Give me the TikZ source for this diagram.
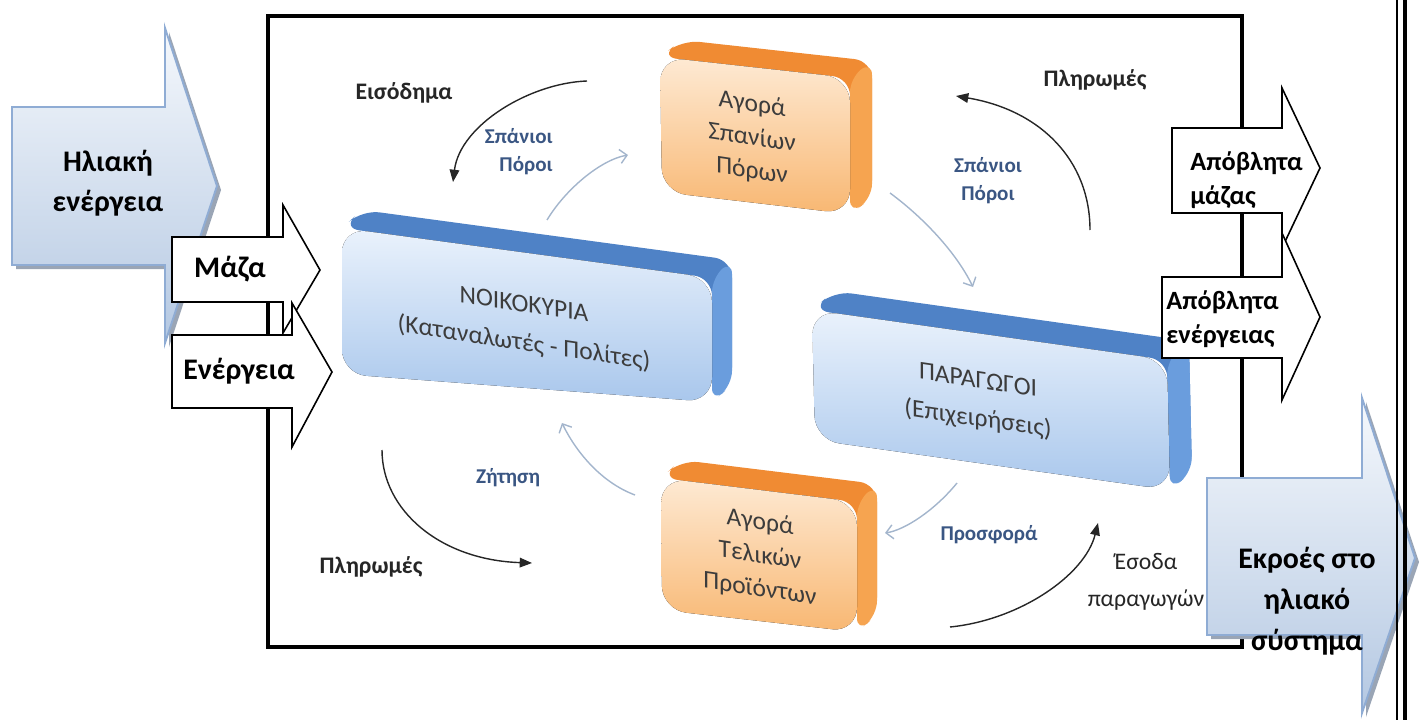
\documentclass[tikz,border=0pt]{standalone}
\usepackage{fontspec}
\setmainfont{Carlito}
\usetikzlibrary{arrows.meta}
\definecolor{suntop}{HTML}{F5F8FC}
\definecolor{sunbottom}{HTML}{B4C8E2}
\definecolor{sunedge}{HTML}{8FACD4}
\definecolor{shadowgray}{HTML}{9AA5B5}
\definecolor{bfronttop}{HTML}{EAF2FC}
\definecolor{bfrontbot}{HTML}{A9C7EC}
\definecolor{bdepth}{HTML}{4F82C6}
\definecolor{bside}{HTML}{6A9DDD}
\definecolor{ofronttop}{HTML}{FEEAD4}
\definecolor{ofrontbot}{HTML}{F8B772}
\definecolor{odepth}{HTML}{F08B33}
\definecolor{oside}{HTML}{F6A450}
\definecolor{boxgray}{HTML}{3C3C3C}
\definecolor{flowtext}{HTML}{3A5683}
\definecolor{flowline}{HTML}{A3B5CC}

\begin{document}
\begin{tikzpicture}[x=0.02cm, y=-0.02cm,
    money/.style={draw=black!85, line width=0.8pt, -{Triangle[length=7pt,width=5.5pt]}},
    goods/.style={draw=flowline, line width=0.8pt, -{Straight Barb[length=4pt,width=8pt]}},
    boxtext/.style={text=boxgray, align=center, yslant=-0.15, inner sep=1pt, font=\fontsize{14.5}{19}\selectfont},
    moneylbl/.style={text=black!85, font=\bfseries\fontsize{13.5}{16}\selectfont},
    flowlbl/.style={text=flowtext, font=\bfseries\fontsize{12}{16}\selectfont},
    inflow/.style={draw=black, line width=0.9pt, fill=white},
    sunarrow/.style={draw=sunedge, line width=1.1pt, top color=suntop, bottom color=sunbottom},
    sunshadow/.style={fill=shadowgray},
    arrowtext/.style={align=center, font=\bfseries\fontsize{17}{22.5}\selectfont},
    wastetext/.style={align=left, anchor=west, inner sep=0, font=\bfseries\fontsize{15}{19.5}\selectfont}]

    \useasboundingbox (0,0) rectangle (1421,720);

    \draw[line width=2.8pt] (268,16) rectangle (1242,647);

    % boxes
    \fill[bdepth, rounded corners=10] (342,228) -- ++(20,-18) -- (732,260) -- (732,385) -- (712,402) -- (712,278) -- cycle;
    \fill[bside, rounded corners=8] (712,278) -- (732,260) -- (732,385) -- (712,402) -- cycle;
    \fill[top color=bfronttop, bottom color=bfrontbot, rounded corners=14] (342,228) -- (712,278) -- (712,402) -- (342,374) -- cycle;
    \node[boxtext, font=\fontsize{14.5}{22}\selectfont] (noik) at (524,325) {ΝΟΙΚΟΚΥΡΙΑ\\(Καταναλωτές - Πολίτες)};

    \fill[bdepth, rounded corners=10] (812,310) -- ++(22,-19) -- (1189,341) -- (1192,472) -- (1170,490) -- (1167,360) -- cycle;
    \fill[bside, rounded corners=8] (1167,360) -- (1189,341) -- (1192,472) -- (1170,490) -- cycle;
    \fill[top color=bfronttop, bottom color=bfrontbot, rounded corners=14] (812,310) -- (1167,360) -- (1170,490) -- (815,440) -- cycle;
    \node[boxtext, font=\fontsize{14.5}{22}\selectfont] (parag) at (978,401) {ΠΑΡΑΓΩΓΟΙ\\(Επιχειρήσεις)};

    \fill[odepth, rounded corners=10] (660,57) -- ++(22,-17) -- (872,61) -- (872,198) -- (850,214) -- (850,78) -- cycle;
    \fill[oside, rounded corners=8] (850,78) -- (872,61) -- (872,198) -- (850,214) -- cycle;
    \fill[top color=ofronttop, bottom color=ofrontbot, rounded corners=14] (660,57) -- (850,78) -- (850,214) -- (662,192) -- cycle;
    \node[boxtext] (agsp) at (752,138) {Αγορά\\Σπανίων\\Πόρων};

    \fill[odepth, rounded corners=10] (661,478) -- ++(20,-18) -- (877,484) -- (877,615) -- (857,632) -- (857,502) -- cycle;
    \fill[oside, rounded corners=8] (857,502) -- (877,484) -- (877,615) -- (857,632) -- cycle;
    \fill[top color=ofronttop, bottom color=ofrontbot, rounded corners=14] (661,478) -- (857,502) -- (857,632) -- (662,610) -- cycle;
    \node[boxtext] (agtel) at (760,556) {Αγορά\\Τελικών\\Προϊόντων};

    % flows
    \coordinate (incS) at (587,81);  \coordinate (incE) at (453,182);
    \coordinate (rawS) at (547,220); \coordinate (rawE) at (628,155);
    \coordinate (payS) at (1090,230); \coordinate (payE) at (956,96);
    \coordinate (resS) at (890,193); \coordinate (resE) at (973,287);
    \coordinate (demS) at (635,495); \coordinate (demE) at (562,423);
    \coordinate (buyS) at (382,450); \coordinate (buyE) at (532,563);
    \coordinate (supS) at (957,483); \coordinate (supE) at (885,533);
    \coordinate (revS) at (950,627); \coordinate (revE) at (1098,523);

    \draw[money] (incS) .. controls (530,83) and (460,125) .. (incE);
    \draw[goods] (rawS) .. controls (565,190) and (600,160) .. (rawE);
    \draw[money] (payS) .. controls (1090,160) and (1040,110) .. (payE);
    \draw[goods] (resS) .. controls (920,215) and (955,250) .. (resE);
    \draw[goods] (demS) .. controls (600,482) and (575,450) .. (demE);
    \draw[money] (buyS) .. controls (382,510) and (440,560) .. (buyE);
    \draw[goods] (supS) .. controls (935,510) and (905,530) .. (supE);
    \draw[money] (revS) .. controls (1020,620) and (1085,575) .. (revE);

    \node[moneylbl] (inc) at (404,93) {Εισόδημα};
    \node[moneylbl] (payP) at (1095,80) {Πληρωμές};
    \node[moneylbl] (payH) at (371,567) {Πληρωμές};
    \node[moneylbl, font=\fontsize{13.5}{21}\selectfont, align=center] (rev) at (1146,582) {Έσοδα\\παραγωγών};
    \node[flowlbl, align=right, anchor=east, inner sep=0] (rawH) at (553,152) {Σπάνιοι\\Πόροι};
    \node[flowlbl, align=center] (rawP) at (988,181) {Σπάνιοι\\Πόροι};
    \node[flowlbl] (dem) at (508,478) {Ζήτηση};
    \node[flowlbl] (sup) at (989,535) {Προσφορά};

    % inputs
    \fill[sunshadow] (16,111) -- (169,111) -- (169,32) -- (221,190) -- (169,347) -- (169,269) -- (16,269) -- cycle;
    \draw[sunarrow] (12,107) -- (165,107) -- (165,28) -- (217,186) -- (165,343) -- (165,265) -- (12,265) -- cycle;
    \node[arrowtext] (sun) at (108,183) {Ηλιακή\\ενέργεια};

    \draw[inflow] (172,237) -- (283,237) -- (283,205) -- (320,270) -- (283,333) -- (283,302) -- (172,302) -- cycle;
    \node[arrowtext] (mass) at (230,269) {Μάζα};
    \draw[inflow] (172,335) -- (292,335) -- (292,303) -- (332,372) -- (292,447) -- (292,408) -- (172,408) -- cycle;
    \node[arrowtext] (energy) at (239,371) {Ενέργεια};

    % outputs
    \draw[inflow] (1172,128) -- (1282,128) -- (1282,88) -- (1320,168) -- (1282,248) -- (1282,213) -- (1172,213) -- cycle;
    \node[wastetext] (masswaste) at (1190,180) {Απόβλητα\\μάζας};
    \draw[inflow] (1162,277) -- (1282,277) -- (1282,233) -- (1320,317) -- (1282,400) -- (1282,358) -- (1162,358) -- cycle;
    \node[wastetext] (energywaste) at (1166,319) {Απόβλητα\\ενέργειας};

    \fill[sunshadow] (1211,482) -- (1366,482) -- (1366,402) -- (1419,562) -- (1366,717) -- (1366,639) -- (1211,639) -- cycle;
    \draw[sunarrow] (1207,478) -- (1362,478) -- (1362,398) -- (1415,558) -- (1362,713) -- (1362,635) -- (1207,635) -- cycle;
    \node[arrowtext, font=\bfseries\fontsize{17}{23.5}\selectfont] (outflow) at (1307,601) {Εκροές στο\\ηλιακό\\σύστημα};

    \draw[line width=1.1pt] (1397,0) -- (1397,720);
    \draw[line width=2.8pt] (1405,0) -- (1405,720);
\end{tikzpicture}
\end{document}
